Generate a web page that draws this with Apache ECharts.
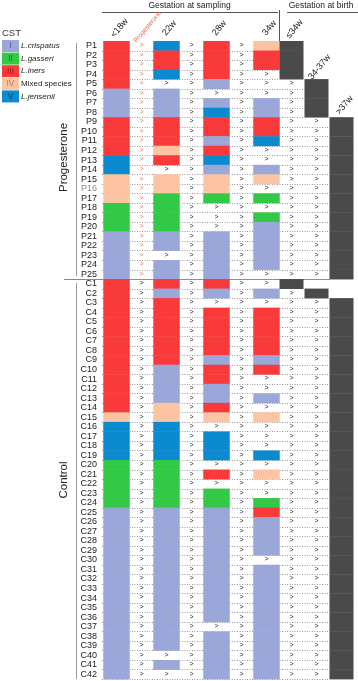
<!DOCTYPE html>
<html><head><meta charset="utf-8">
<script src="https://cdn.jsdelivr.net/npm/echarts@6/dist/echarts.min.js"></script>
<style>html,body{margin:0;padding:0;background:#fff}#c{width:358px;height:681px}</style>
</head><body><div id="c"></div>
<script>
// ---- data ----
const rowLabels = ['P1','P2','P3','P4','P5','P6','P7','P8','P9','P10','P11','P12','P13','P14','P15','P16','P17','P18','P19','P20','P21','P22','P23','P24','P25',
  'C1','C2','C3','C4','C5','C6','C7','C8','C9','C10','C11','C12','C13','C14','C15','C16','C17','C18','C19','C20','C21','C22','C23','C24','C25','C26','C27','C28','C29','C30','C31','C32','C33','C34','C35','C36','C37','C38','C39','C40','C41','C42'];
// CST per sampling time: 1=I, 2=II, 3=III, 4=IV, 5=V, 0=no sample
const cst18 = [3,3,3,3,3,1,1,1,3,3,3,3,5,5,4,4,4,2,2,2,1,1,1,1,1,
  3,3,3,3,3,3,3,3,3,3,3,3,3,3,4,5,5,5,5,2,2,2,2,2,1,1,1,1,1,1,1,1,1,1,1,1,1,1,1,1,1,1];
const cst22 = [5,3,3,5,0,1,1,1,3,3,3,4,3,0,4,4,2,2,2,2,1,1,0,1,1,
  3,1,3,3,3,3,3,3,3,1,1,1,1,4,4,5,5,5,5,2,2,2,2,2,1,1,1,1,1,1,1,1,1,1,1,1,1,1,1,0,1,0];
const cst28 = [3,3,3,3,1,0,1,5,3,3,1,3,5,1,4,4,2,0,0,0,1,1,1,1,1,
  3,1,0,3,3,3,3,3,1,3,3,1,1,3,4,0,5,5,5,0,3,0,2,2,1,1,1,1,1,1,1,1,1,1,1,1,0,1,1,1,1,1];
const cst34 = [4,3,3,0,0,0,1,1,3,3,5,0,0,1,4,0,2,0,2,1,1,1,1,1,0,
  0,1,0,3,3,3,3,3,1,3,0,0,1,0,4,0,0,0,5,0,4,0,0,2,3,1,1,1,1,0,1,1,1,1,1,1,1,1,1,1,1,1];
// gestation at birth: 0 = ≤34w, 1 = 34-37w, 2 = >37w
const birthGroup = [0,0,0,0,1,1,1,1,2,2,2,2,2,2,2,2,2,2,2,2,2,2,2,2,2,
  0,1,2,2,2,2,2,2,2,2,2,2,2,2,2,2,2,2,2,2,2,2,2,2,2,2,2,2,2,2,2,2,2,2,2,2,2,2,2,2,2,2];
const columnLabels = ['<18w','Progesterone','22w','','28w','','34w','≤34w','34-37w','>37w'];
const cstNumerals = ['I','II','III','IV','V'];
const cstNames = ['L.crispatus','L.gasseri','L.iners','Mixed species','L.jensenii'];
const groupNames = ['Progesterone','Control'];
const groupSizes = [25,42];
const titles = ['Gestation at sampling','Gestation at birth'];

// ---- styles ----
const FONT = 'Liberation Sans, Arial, sans-serif';
const cstColors = ['#ffffff','#9ba7d9','#32c946','#f93a3a','#fcc4a2','#0b8ad0'];
const cstDark = ['#000','#4a5aa5','#0e7a20','#a81818','#c8784a','#073f7a'];
const birthColor = '#4a4a4a';
const progColor = '#e8704e';

// ---- build marks ----
const sampleCols = [0,2,4,6];
const sampleData = [cst18,cst22,cst28,cst34];
const cells=[], arrows=[], births=[], dots=[], headers=[];
for (let r=0;r<rowLabels.length;r++){
  sampleData.forEach((arr,j)=>{
    const c=sampleCols[j];
    if(arr[r]>0) cells.push([c,r,arr[r]]); else arrows.push([c,r,0]);
  });
  [1,3,5].forEach(c=>arrows.push([c,r,(c===1 && r<groupSizes[0])?1:0]));
  const b=birthGroup[r];
  births.push([7+b,r]);
  for(let c=7;c<7+b;c++) arrows.push([c,r,0]);
  dots.push([7+b,r]);
}
for (let c=0;c<7;c++) if(columnLabels[c]) headers.push([c,0,c]);
for (let b=0;b<3;b++) headers.push([7+b, birthGroup.indexOf(b), 7+b]);

const chart = echarts.init(document.getElementById('c'));
const rot = 50*Math.PI/180;
chart.setOption({
  animation:false,
  grid:{left:104,right:4,top:41,bottom:2,containLabel:false},
  xAxis:{type:'category',data:columnLabels,show:false},
  yAxis:{type:'category',data:rowLabels,inverse:true,
    axisLine:{show:false},axisTick:{show:false},splitLine:{show:false},
    axisLabel:{interval:0,fontSize:9,fontFamily:FONT,margin:7,
      color:(v)=> v==='P16' ? '#8a8a8a' : '#222'}},
  series:[
    {type:'custom',z:1,data:dots,renderItem:(p,api)=>{
      const a=api.coord([0,api.value(1)]), b=api.coord([api.value(0),api.value(1)]), s=api.size([1,1]);
      const y=Math.round(a[1]+s[1]/2)+0.5;
      return {type:'line',shape:{x1:a[0]-s[0]/2-2,y1:y,x2:b[0]-s[0]/2,y2:y},
        style:{stroke:'#9a9a9a',lineWidth:1,lineDash:[1,1.5]}};
    }},
    {type:'custom',z:2,data:cells,renderItem:(p,api)=>{
      const c=api.coord([api.value(0),api.value(1)]), s=api.size([1,1]);
      const w=s[0]*1.06;
      return {type:'rect',shape:{x:c[0]-w/2,y:c[1]-s[1]/2,width:w,height:s[1]+0.4},
        style:{fill:cstColors[api.value(2)]}};
    }},
    {type:'custom',z:2,data:births,renderItem:(p,api)=>{
      const c=api.coord([api.value(0),api.value(1)]), s=api.size([1,1]);
      return {type:'rect',shape:{x:c[0]-s[0]/2+0.5,y:c[1]-s[1]/2,width:s[0]-1,height:s[1]+0.4},
        style:{fill:birthColor}};
    }},
    {type:'custom',z:3,data:arrows,renderItem:(p,api)=>{
      const c=api.coord([api.value(0),api.value(1)]);
      return {type:'text',x:c[0],y:c[1]-0.5,style:{text:'>',fill:api.value(2)?progColor:'#222',
        font:'7px '+FONT,align:'center',verticalAlign:'middle'}};
    }},
    {type:'custom',z:3,clip:false,data:headers,renderItem:(p,api)=>{
      const col=api.value(0), c=api.coord([col,api.value(1)]), s=api.size([1,1]);
      const top=c[1]-s[1]/2;
      const isProg = col===1;
      const isBirth = col>=7;
      return {type:'text',x:c[0]+(isProg?6:(isBirth?3:3)),y:top-(isProg?14:(isBirth?12:13)),rotation:rot,
        style:{text:columnLabels[api.value(2)],fill:isProg?progColor:'#222',
          font:(isProg?'6.5px ':'9px ')+FONT,align:'center',verticalAlign:'middle'}};
    }}
  ],
  graphic:[
    {type:'text',x:189.5,y:5.5,style:{text:titles[0],font:'8.5px '+FONT,fill:'#222',align:'center',verticalAlign:'middle'}},
    {type:'text',x:321,y:5.5,style:{text:titles[1],font:'8.5px '+FONT,fill:'#222',align:'center',verticalAlign:'middle'}},
    {type:'line',shape:{x1:102,y1:12.5,x2:278,y2:12.5},style:{stroke:'#555',lineWidth:1}},
    {type:'line',shape:{x1:287,y1:12.5,x2:358,y2:12.5},style:{stroke:'#555',lineWidth:1}},
    {type:'line',shape:{x1:279.5,y1:10,x2:279.5,y2:41},style:{stroke:'#555',lineWidth:1}},
    {type:'text',x:2,y:33,style:{text:'CST',font:'9.5px '+FONT,fill:'#333',verticalAlign:'middle'}},
    ...cstNumerals.flatMap((n,i)=>[
      {type:'rect',shape:{x:2,y:40+i*12.6,width:17,height:12},style:{fill:cstColors[i+1]}},
      {type:'text',x:10.5,y:46+i*12.6,style:{text:n,font:'8.5px '+FONT,fill:cstDark[i+1],align:'center',verticalAlign:'middle'}},
      {type:'text',x:21,y:46+i*12.6,style:{text:cstNames[i],font:(i===3?'':'italic ')+'8px '+FONT,fill:'#222',verticalAlign:'middle'}}
    ]),
    {type:'line',shape:{x1:76.5,y1:43,x2:76.5,y2:276},style:{stroke:'#999',lineWidth:1}},
    {type:'line',shape:{x1:76.5,y1:283,x2:76.5,y2:679},style:{stroke:'#999',lineWidth:1}},
    {type:'line',shape:{x1:64,y1:279.5,x2:330,y2:279.5},style:{stroke:'#888',lineWidth:1}},
    {type:'text',x:64,y:157.5,rotation:Math.PI/2,style:{text:groupNames[0],font:'11.5px '+FONT,fill:'#222',align:'center',verticalAlign:'middle'}},
    {type:'text',x:64,y:480,rotation:Math.PI/2,style:{text:groupNames[1],font:'11.5px '+FONT,fill:'#222',align:'center',verticalAlign:'middle'}}
  ]
});
</script></body></html>
